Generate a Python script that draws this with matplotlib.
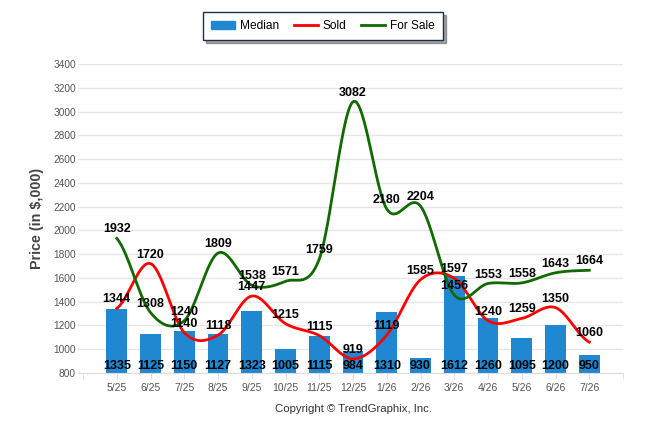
"""
Median / sold / for sale price chart, monthly
"""

import numpy as np
import matplotlib
matplotlib.use("Agg")
import matplotlib.pyplot as plt
from matplotlib.patches import Patch
from matplotlib.lines import Line2D

months = ["5/25", "6/25", "7/25", "8/25", "9/25", "10/25", "11/25", "12/25",
          "1/26", "2/26", "3/26", "4/26", "5/26", "6/26", "7/26"]
median = [1335, 1125, 1150, 1127, 1323, 1005, 1115, 984, 1310, 930, 1612, 1260, 1095, 1200, 950]
sold = [1344, 1720, 1140, 1118, 1447, 1215, 1115, 919, 1119, 1585, 1597, 1240, 1259, 1350, 1060]
for_sale = [1932, 1308, 1240, 1809, 1538, 1571, 1759, 3082, 2180, 2204, 1456, 1553, 1558, 1643, 1664]
y_ticks = list(range(800, 3401, 200))

plt.rcParams['font.family'] = ['Liberation Sans', 'DejaVu Sans']


def smooth(xs, ys, steps=30):
    """catmull-rom curve through the points, just for drawing"""
    xs = np.asarray(xs, float)
    ys = np.asarray(ys, float)
    px = np.concatenate([[2 * xs[0] - xs[1]], xs, [2 * xs[-1] - xs[-2]]])
    py = np.concatenate([[ys[0]], ys, [ys[-1]]])
    out_x, out_y = [], []
    for i in range(1, len(px) - 2):
        t = np.linspace(0, 1, steps)
        for arr, out in ((px, out_x), (py, out_y)):
            p0, p1, p2, p3 = arr[i - 1], arr[i], arr[i + 1], arr[i + 2]
            out.extend(0.5 * ((2 * p1) + (-p0 + p2) * t
                              + (2 * p0 - 5 * p1 + 4 * p2 - p3) * t ** 2
                              + (-p0 + 3 * p1 - 3 * p2 + p3) * t ** 3))
    return out_x, out_y


fig = plt.figure(figsize=(6.46, 4.34), dpi=100)
ax = fig.add_axes([0.1207, 0.1406, 0.8437, 0.712])

x = np.arange(len(months))
bar_color = '#1f88d1'
ax.bar(x, [m - 800 for m in median], bottom=800, width=0.62, color=bar_color, zorder=2)

sx, sy = smooth(x, sold)
ax.plot(sx, sy, color='#ff0000', lw=2, zorder=3)
fx, fy = smooth(x, for_sale)
ax.plot(fx, fy, color='#116a00', lw=2, zorder=3)

label_kw = dict(ha='center', fontsize=9, fontweight='bold', color='black', zorder=5)
for i in range(len(months)):
    ax.text(x[i], 812, str(median[i]), va='bottom', **label_kw)
    ax.text(x[i], sold[i] + 25, str(sold[i]), va='bottom', **label_kw)
    ax.text(x[i], for_sale[i] + 25, str(for_sale[i]), va='bottom', **label_kw)

ax.set_xlim(-1.15, 14.97)
ax.set_ylim(800, 3400)
ax.set_yticks(y_ticks)
ax.set_xticks(x)
ax.set_xticklabels(months)
ax.set_xticks([-1, 15], minor=True)
ax.tick_params(axis='y', length=0, labelsize=7.3, colors='#555555', pad=1.5)
ax.tick_params(axis='x', which='both', length=4, color='#dddddd', labelsize=7.5,
               labelcolor='#555555', pad=3)
ax.grid(axis='y', color='#e6e6e6', lw=1, zorder=0)
for side in ['top', 'right', 'left']:
    ax.spines[side].set_visible(False)
ax.spines['bottom'].set_color('#dddddd')
ax.set_ylabel("Price (in $,000)", fontsize=10.3, fontweight='bold', color='#444444', labelpad=7)

fig.text(0.547, 0.058, "Copyright \u00a9 TrendGraphix, Inc.", ha='center', va='center',
         fontsize=8.2, color='#333333')

handles = [Patch(color=bar_color),
           Line2D([], [], color='#ff0000', lw=2),
           Line2D([], [], color='#116a00', lw=2)]
leg = fig.legend(handles, ["Median", "Sold", "For Sale"], loc='center',
                 bbox_to_anchor=(0.5, 0.94), ncol=3, frameon=True, fancybox=False,
                 shadow=True, fontsize=8.6, handlelength=2.0, handletextpad=0.45,
                 columnspacing=1.2, borderpad=0.65, borderaxespad=0)
leg.get_frame().set_edgecolor('#1c2e4a')
leg.get_frame().set_linewidth(1)

fig.savefig("out.png", dpi=100)
